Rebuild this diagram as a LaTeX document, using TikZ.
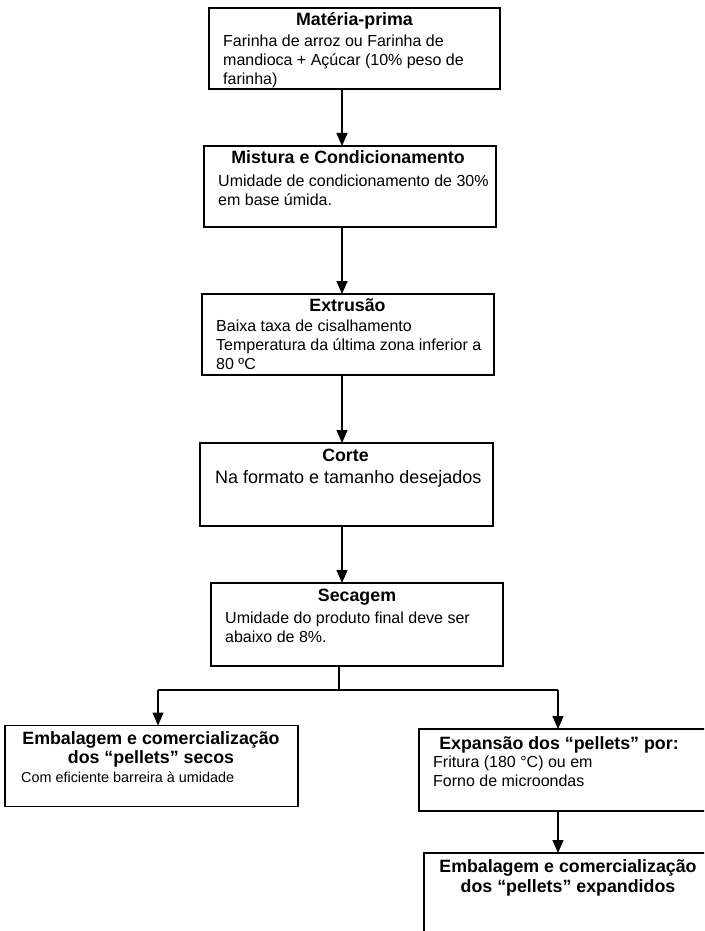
\documentclass[tikz,border=0pt]{standalone}
\usepackage{fontspec}
\setmainfont{Liberation Sans}
\usetikzlibrary{arrows.meta}
\begin{document}
\begin{tikzpicture}[x=1pt,y=-1pt,
  box/.style={draw=black,line width=1.3pt,inner sep=0pt,outer sep=0pt},
  arr/.style={line width=1.2pt,-{Triangle[width=11pt,length=13pt]}},
  conn/.style={line width=1.2pt},
  hd/.style={inner sep=0pt,anchor=base,align=center,font=\fontsize{17.8}{18}\selectfont\bfseries},
  txt/.style={inner sep=0pt,anchor=base west,align=left,font=\fontsize{16}{19}\selectfont},
  bigtxt/.style={txt,font=\fontsize{18}{20}\selectfont},
  smalltxt/.style={txt,font=\fontsize{14.4}{17}\selectfont}]
\path[use as bounding box,fill=white] (0,0) rectangle (704,931);
\clip (0,0) rectangle (704,931);
% boxes
\node[box,minimum width=291pt,minimum height=81pt] (b1) at (354.5,48.5) {};
\node[box,minimum width=292pt,minimum height=81pt] (b2) at (350,186.5) {};
\node[box,minimum width=292pt,minimum height=81pt] (b3) at (348,334.5) {};
\node[box,minimum width=293pt,minimum height=83pt] (b4) at (346.5,484.5) {};
\node[box,minimum width=292pt,minimum height=83pt] (b5) at (357,624.5) {};
\node[box,minimum width=293pt,minimum height=81pt] (b6) at (151.5,766) {};
\node[box,minimum width=301pt,minimum height=82pt] (b7) at (569.5,770) {};
\node[box,minimum width=296pt,minimum height=107pt] (b8) at (572,906.5) {};
% texts (multi-line nodes: base = baseline of last line)
\node[hd] (h1) at (354.5,26) {Matéria-prima};
\node[txt] (t1) at (223,85) {Farinha de arroz ou Farinha de\\mandioca + Açúcar (10\% peso de\\farinha)};
\node[hd] (h2) at (348,163.5) {Mistura e Condicionamento};
\node[txt] (t2) at (218,205) {Umidade de condicionamento de 30\%\\em base úmida.};
\node[hd] (h3) at (347.5,311.5) {Extrusão};
\node[txt] (t3) at (216,369) {Baixa taxa de cisalhamento\\Temperatura da última zona inferior a\\80 ºC};
\node[hd] (h4) at (345.5,461.5) {Corte};
\node[bigtxt] (t4) at (215,483.5) {Na formato e tamanho desejados};
\node[hd] (h5) at (357,601.5) {Secagem};
\node[txt] (t5) at (225,642) {Umidade do produto final deve ser\\abaixo de 8\%.};
\node[hd,font=\fontsize{17.8}{19}\selectfont\bfseries] (h6) at (151,763) {Embalagem e comercialização\\dos “pellets” secos};
\node[smalltxt] (t6) at (21,782) {Com eficiente barreira à umidade};
\node[hd] (h7) at (559,749.5) {Expansão dos “pellets” por:};
\node[txt] (t7) at (433,786) {Fritura (180 °C) ou em\\Forno de microondas};
\node[hd,font=\fontsize{17.8}{20}\selectfont\bfseries] (h8) at (568,892.5) {Embalagem e comercialização\\dos “pellets” expandidos};
% connectors
\coordinate (ax) at (342,0);
\coordinate (j) at (339,690);
\coordinate (lx) at (158,690);
\coordinate (rx) at (558,690);
\draw[arr] (b1.south -| ax) -- (b2.north -| ax);
\draw[arr] (b2.south -| ax) -- (b3.north -| ax);
\draw[arr] (b3.south -| ax) -- (b4.north -| ax);
\draw[arr] (b4.south -| ax) -- (b5.north -| ax);
\draw[conn] (b5.south -| j) -- (j);
\draw[conn] (lx) -- (rx);
\draw[arr] (lx) -- (b6.north -| lx);
\draw[arr] (rx) -- (b7.north -| rx);
\draw[arr] (b7.south -| rx) -- (b8.north -| rx);
\end{tikzpicture}
\end{document}
